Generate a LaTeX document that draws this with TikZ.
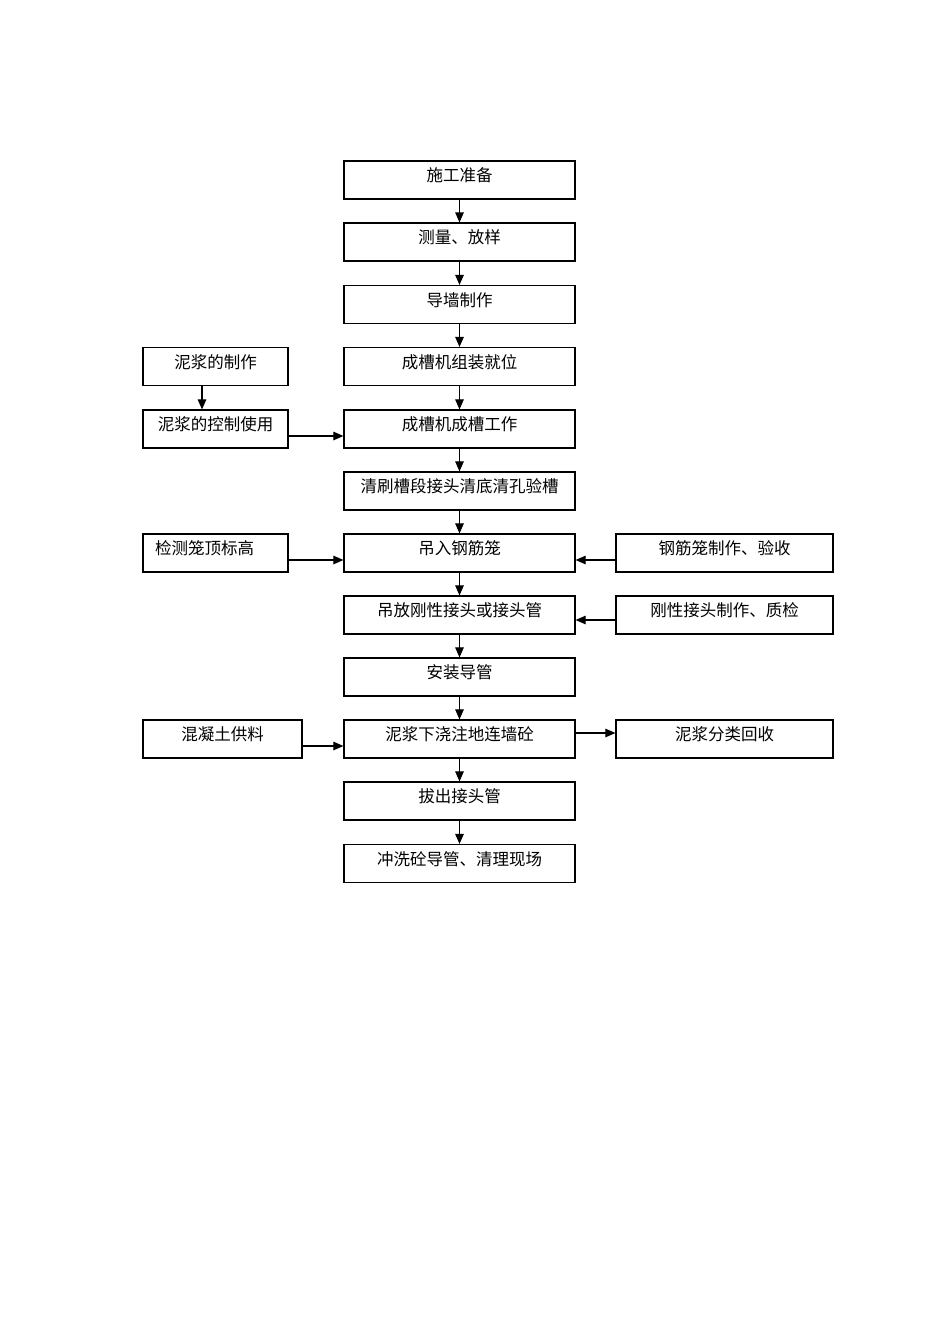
\documentclass[tikz,border=0pt]{standalone}
\usepackage{fontspec}
\newfontfamily\cjk{Noto Sans CJK SC}
\usetikzlibrary{arrows.meta}
\begin{document}
\begin{tikzpicture}[x=1pt,y=-1pt,
  box/.style={draw,line width=1.2pt,minimum height=38pt,inner sep=0pt,
    font=\cjk\fontsize{16.5}{16.5}\selectfont,text height=12pt,text depth=8.4pt},
  mainbox/.style={box,minimum width=231pt},
  leftbox/.style={box,minimum width=145pt},
  rightbox/.style={box,minimum width=217pt},
  arr/.style={line width=1.1pt,-{Triangle[length=10pt,width=8.5pt]}}]
\useasboundingbox (0,0) rectangle (950,1344);
\fill[white] (0,0) rectangle (950,1344);
\node[mainbox] (m1) at (459.5,180) {施工准备};
\node[mainbox] (m2) at (459.5,242) {测量、放样};
\node[mainbox] (m3) at (459.5,304.5) {导墙制作};
\node[mainbox] (m4) at (459.5,366.5) {成槽机组装就位};
\node[mainbox] (m5) at (459.5,429) {成槽机成槽工作};
\node[mainbox] (m6) at (459.5,491) {清刷槽段接头清底清孔验槽};
\node[mainbox] (m7) at (459.5,553) {吊入钢筋笼};
\node[mainbox] (m8) at (459.5,615) {吊放刚性接头或接头管};
\node[mainbox] (m9) at (459.5,677) {安装导管};
\node[mainbox] (m10) at (459.5,739) {泥浆下浇注地连墙砼};
\node[mainbox] (m11) at (459.5,801) {拔出接头管};
\node[mainbox] (m12) at (459.5,863.5) {冲洗砼导管、清理现场};
\node[leftbox] (l1) at (215.5,366.5) {泥浆的制作};
\node[leftbox] (l2) at (215.5,429) {泥浆的控制使用};
\node[leftbox,align=left,text width=121pt] (l3) at (215.5,553) {检测笼顶标高};
\node[box,minimum width=159pt] (l4) at (222.5,739) {混凝土供料};
\node[rightbox] (r1) at (724.5,553) {钢筋笼制作、验收};
\node[rightbox] (r2) at (724.5,615) {刚性接头制作、质检};
\node[rightbox] (r3) at (724.5,739) {泥浆分类回收};
\foreach \a/\b in {m1/m2,m2/m3,m3/m4,m4/m5,m5/m6,m6/m7,m7/m8,m8/m9,m9/m10,m10/m11,m11/m12}
  \draw[arr] (\a.south) -- (\b.north);
\draw[arr] ([xshift=-13.5pt]l1.south) -- ([xshift=-13.5pt]l2.north);
\draw[arr] ([yshift=-7pt]l2.east) -- ([yshift=-7pt]m5.west);
\draw[arr] ([yshift=-7pt]l3.east) -- ([yshift=-7pt]m7.west);
\draw[arr] ([yshift=-7pt]r1.west) -- ([yshift=-7pt]m7.east);
\draw[arr] ([yshift=-5pt]r2.west) -- ([yshift=-5pt]m8.east);
\draw[arr] ([yshift=-7pt]l4.east) -- ([yshift=-7pt]m10.west);
\draw[arr] ([yshift=6pt]m10.east) -- ([yshift=6pt]r3.west);
\end{tikzpicture}
\end{document}
